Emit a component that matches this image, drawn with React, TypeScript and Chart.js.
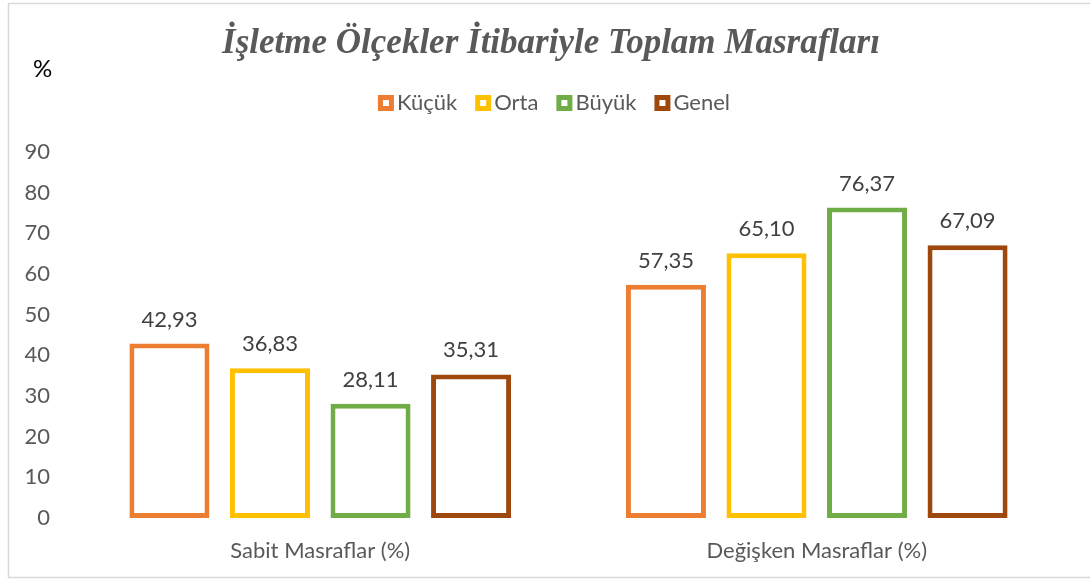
import React, { useEffect, useRef } from "react";
import { Chart, registerables } from "chart.js";

Chart.register(...registerables);

const categories = ["Sabit Masraflar (%)", "Değişken Masraflar (%)"];
const seriesNames = ["Küçük", "Orta", "Büyük", "Genel"];
const kucuk = [42.93, 57.35];
const orta = [36.83, 65.1];
const buyuk = [28.11, 76.37];
const genel = [35.31, 67.09];
const colors = ["#ED7D31", "#FFC000", "#70AD47", "#9E480E"];
const yTicks = [0, 10, 20, 30, 40, 50, 60, 70, 80, 90];
const titleText = "İşletme Ölçekler İtibariyle Toplam Masrafları";
const FONT = "Lato, 'Open Sans', sans-serif";

const decor = {
  id: "decor",
  beforeDraw(chart: any) {
    const ctx = chart.ctx;
    ctx.save();
    ctx.fillStyle = "#ffffff";
    ctx.fillRect(0, 0, chart.width, chart.height);
    ctx.strokeStyle = "#d9d9d9";
    ctx.lineWidth = 1.5;
    ctx.beginPath();
    ctx.moveTo(chart.width, 3.5);
    ctx.lineTo(8.5, 3.5);
    ctx.lineTo(8.5, 577.5);
    ctx.lineTo(chart.width, 577.5);
    ctx.stroke();
    ctx.restore();
  },
  afterDraw(chart: any) {
    const ctx = chart.ctx;
    ctx.save();
    // title
    ctx.fillStyle = "#595959";
    ctx.font = "italic bold 35px 'Liberation Serif', 'Times New Roman', serif";
    ctx.textAlign = "center";
    ctx.textBaseline = "alphabetic";
    ctx.fillText(titleText, 551, 53);
    // % unit
    ctx.fillStyle = "#000000";
    ctx.font = "24px " + FONT;
    ctx.textAlign = "left";
    ctx.fillText("%", 33, 77);
    // legend
    ctx.font = "22px " + FONT;
    const box = 16;
    const gapBoxText = 3;
    const gapItems = 18;
    const widths = seriesNames.map((n) => ctx.measureText(n).width);
    const total =
      widths.reduce((a, b) => a + b, 0) +
      seriesNames.length * (box + gapBoxText) +
      (seriesNames.length - 1) * gapItems;
    let x = 554 - total / 2;
    const cy = 103;
    seriesNames.forEach((n, i) => {
      ctx.fillStyle = colors[i];
      ctx.fillRect(x, cy - box / 2, box, box);
      ctx.fillStyle = "#ffffff";
      ctx.fillRect(x + 5, cy - box / 2 + 5, box - 10, box - 10);
      ctx.fillStyle = "#595959";
      ctx.textBaseline = "middle";
      ctx.fillText(n, x + box + gapBoxText, cy);
      x += box + gapBoxText + widths[i] + gapItems;
    });
    ctx.restore();
  },
  afterDatasetsDraw(chart: any) {
    const ctx = chart.ctx;
    ctx.save();
    ctx.fillStyle = "#404040";
    ctx.font = "22px " + FONT;
    ctx.textAlign = "center";
    ctx.textBaseline = "middle";
    chart.data.datasets.forEach((ds: any, di: number) => {
      const meta = chart.getDatasetMeta(di);
      meta.data.forEach((bar: any, i: number) => {
        const v = ds.data[i] as number;
        ctx.fillText(v.toFixed(2).replace(".", ","), bar.x, bar.y - 24);
      });
    });
    ctx.restore();
  },
};

export default function App() {
  const ref = useRef<HTMLCanvasElement>(null);
  useEffect(() => {
    document.body.style.margin = "0";
    const values = [kucuk, orta, buyuk, genel];
    const chart = new Chart(ref.current!, {
      type: "bar",
      data: {
        labels: categories,
        datasets: seriesNames.map((name, i) => ({
          label: name,
          data: values[i],
          backgroundColor: "#ffffff",
          borderColor: colors[i],
          borderWidth: 5,
          borderSkipped: false,
          barPercentage: 0.796,
          categoryPercentage: 0.81,
        })),
      },
      options: {
        responsive: false,
        animation: false,
        layout: { padding: { top: 152, right: 25, left: 0, bottom: 0 } },
        plugins: {
          legend: { display: false },
          title: { display: false },
          tooltip: { enabled: false },
        },
        scales: {
          x: {
            grid: { display: false, drawTicks: false },
            border: { display: false },
            ticks: {
              color: "#595959",
              font: { family: FONT, size: 22 },
              padding: 20,
            },
            afterFit: (s: any) => {
              s.height = 61;
            },
          },
          y: {
            min: yTicks[0],
            max: yTicks[yTicks.length - 1],
            grid: { display: false, drawTicks: false },
            border: { display: false },
            ticks: {
              stepSize: 10,
              color: "#595959",
              font: { family: FONT, size: 22 },
              padding: 22,
            },
            afterFit: (s: any) => {
              s.width = 72;
            },
          },
        },
      },
      plugins: [decor],
    });
    return () => chart.destroy();
  }, []);
  return (
    <canvas
      ref={ref}
      width={1090}
      height={579}
      style={{ position: "fixed", left: 0, top: 0, width: 1090, height: 579 }}
    />
  );
}
